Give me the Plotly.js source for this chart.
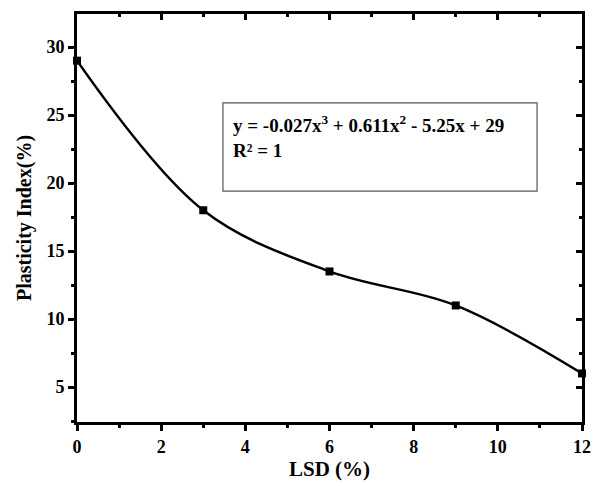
<!DOCTYPE html>
<html>
<head>
<meta charset="utf-8">
<script src="https://cdn.plot.ly/plotly-3.0.1.min.js"></script>
<style>html,body{margin:0;padding:0;background:#fff;}#chart{width:602px;height:486px;}</style>
</head>
<body>
<div id="chart"></div>
<script>
const lsd = [0, 3, 6, 9, 12];
const plasticityIndex = [29, 18, 13.5, 11, 6];
const xTickVals = [0, 2, 4, 6, 8, 10, 12];
const yTickVals = [5, 10, 15, 20, 25, 30];
const equationText = "y = -0.027x<sup>3</sup> + 0.611x<sup>2</sup> - 5.25x + 29<br>R² = 1";

const FONT = "Liberation Serif, Times New Roman, serif";
const xr = [0, 12];
const yr = [2.43, 32.43];
const LW = 3;

const traces = [
  {
    x: lsd, y: plasticityIndex, mode: 'lines', type: 'scatter',
    line: {shape: 'spline', smoothing: 1, color: '#000', width: 2.5},
    hoverinfo: 'skip'
  },
  {
    x: lsd, y: plasticityIndex, mode: 'markers', type: 'scatter',
    marker: {symbol: 'square', size: 8, color: '#000'},
    cliponaxis: false
  },
  {
    x: lsd, y: plasticityIndex, xaxis: 'x2', yaxis: 'y2', mode: 'markers', type: 'scatter',
    marker: {opacity: 0}, hoverinfo: 'skip'
  }
];

const tickFont = {family: FONT, size: 18, color: '#000'};

const layout = {
  width: 602, height: 486,
  margin: {l: 77, r: 20, t: 14, b: 64},
  paper_bgcolor: '#fff', plot_bgcolor: '#fff',
  showlegend: false,
  font: {family: FONT, color: '#000'},
  xaxis: {
    range: xr, tickmode: 'array', tickvals: xTickVals, ticktext: xTickVals.map(v => '<b>' + v + '</b>'),
    showgrid: false, zeroline: false, showline: true, linewidth: LW, linecolor: '#000',
    ticks: 'outside', ticklen: 6, tickwidth: LW, tickcolor: '#000',
    minor: {dtick: 1, ticks: 'outside', ticklen: 3, tickwidth: LW, tickcolor: '#000', showgrid: false},
    tickfont: tickFont,
    title: {text: '<b>LSD (%)</b>', font: {family: FONT, size: 21, color: '#000'}, standoff: 6}
  },
  yaxis: {
    range: yr, tickmode: 'array', tickvals: yTickVals, ticktext: yTickVals.map(v => '<b>' + v + '</b>'),
    showgrid: false, zeroline: false, showline: true, linewidth: LW, linecolor: '#000',
    ticks: 'outside', ticklen: 6, tickwidth: LW, tickcolor: '#000',
    minor: {tick0: 2.5, dtick: 5, ticks: 'outside', ticklen: 3, tickwidth: LW, tickcolor: '#000', showgrid: false},
    tickfont: tickFont,
    title: {text: '<b>Plasticity Index(%)</b>', font: {family: FONT, size: 20, color: '#000'}, standoff: 10}
  },
  xaxis2: {
    overlaying: 'x', side: 'top', anchor: 'y2', range: xr, tickmode: 'array', tickvals: xTickVals,
    showticklabels: false, showgrid: false, zeroline: false, showline: true, linewidth: LW, linecolor: '#000',
    ticks: 'inside', ticklen: 6, tickwidth: LW, tickcolor: '#000',
    minor: {dtick: 1, ticks: 'inside', ticklen: 3, tickwidth: LW, tickcolor: '#000', showgrid: false}
  },
  yaxis2: {
    overlaying: 'y', side: 'right', anchor: 'x2', range: yr, tickmode: 'array', tickvals: yTickVals,
    showticklabels: false, showgrid: false, zeroline: false, showline: true, linewidth: LW, linecolor: '#000',
    ticks: 'inside', ticklen: 6, tickwidth: LW, tickcolor: '#000',
    minor: {tick0: 2.5, dtick: 5, ticks: 'inside', ticklen: 3, tickwidth: LW, tickcolor: '#000', showgrid: false}
  },
  shapes: [{
    type: 'rect', xref: 'paper', yref: 'paper',
    x0: 0.289, x1: 0.911, y0: 0.566, y1: 0.782,
    line: {color: '#555', width: 1.2}, fillcolor: 'rgba(0,0,0,0)'
  }],
  annotations: [{
    xref: 'paper', yref: 'paper', x: 0.305, y: 0.765, xanchor: 'left', yanchor: 'top',
    align: 'left', showarrow: false, text: '<b>' + equationText + '</b>',
    font: {family: FONT, size: 19, color: '#000'}
  }]
};

Plotly.newPlot('chart', traces, layout, {displayModeBar: false, staticPlot: true});
</script>
</body>
</html>
